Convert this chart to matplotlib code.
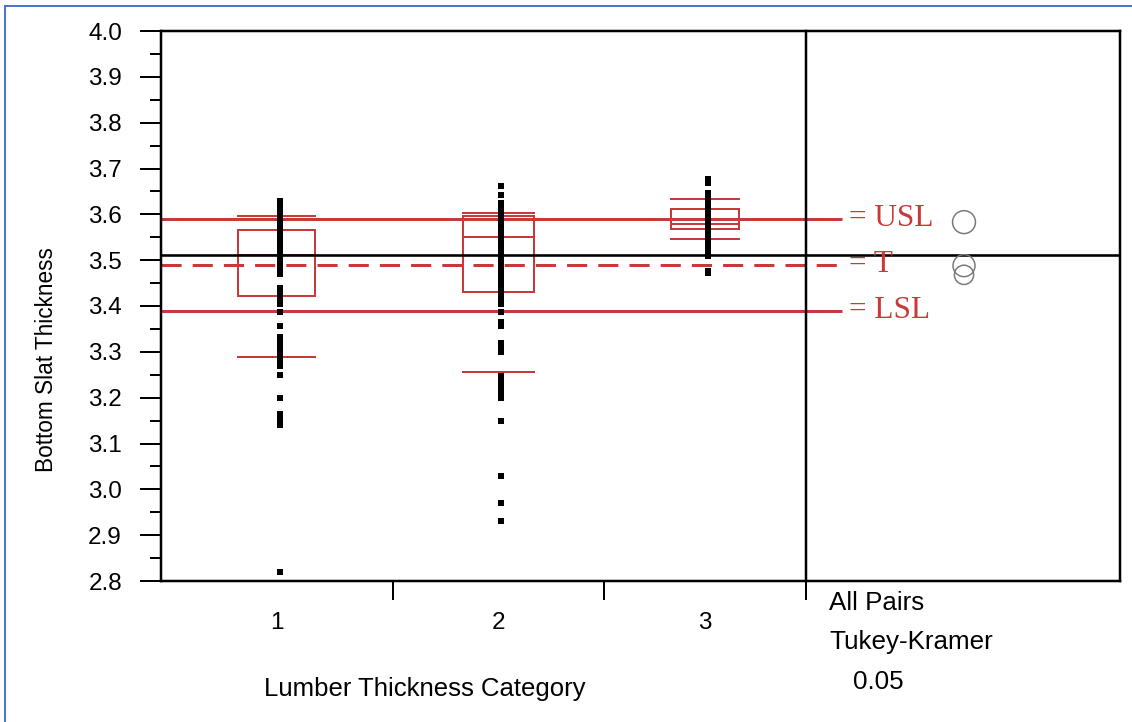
import matplotlib
matplotlib.use("Agg")
import matplotlib.pyplot as plt
from matplotlib.patches import Rectangle, Ellipse
from matplotlib.lines import Line2D

# ---- data -------------------------------------------------------------
categories = ["1", "2", "3"]
group_widths = [0.359, 0.328, 0.313]          # share of the x axis per level

box_q1 = [3.422, 3.430, 3.568]
box_median = [3.512, 3.551, 3.579]
box_q3 = [3.566, 3.596, 3.612]
whisker_low = [3.289, 3.256, 3.546]
whisker_high = [3.596, 3.602, 3.633]

cat1_values = [3.630, 3.620, 3.610, 3.600, 3.590, 3.580, 3.570, 3.560, 3.550,
               3.540, 3.530, 3.520, 3.510, 3.500, 3.490, 3.480, 3.470,
               3.440, 3.430, 3.420, 3.410, 3.405, 3.386, 3.356, 3.333, 3.320,
               3.310, 3.300, 3.290, 3.280, 3.270, 3.250, 3.200, 3.165, 3.155,
               3.145, 3.140, 2.820]
cat2_values = [3.661, 3.642, 3.625, 3.615, 3.605, 3.595, 3.585, 3.575, 3.565,
               3.555, 3.545, 3.535, 3.525, 3.515, 3.505, 3.495, 3.485, 3.475,
               3.465, 3.455, 3.445, 3.435, 3.425, 3.415, 3.405, 3.387, 3.366,
               3.356, 3.320, 3.310, 3.300, 3.247, 3.237, 3.227, 3.217, 3.207,
               3.199, 3.149, 3.030, 2.971, 2.932]
cat3_values = [3.678, 3.668, 3.646, 3.636, 3.626, 3.616, 3.606, 3.596, 3.586,
               3.576, 3.566, 3.556, 3.546, 3.536, 3.526, 3.516, 3.509, 3.476,
               3.471]
group_values = [cat1_values, cat2_values, cat3_values]

grand_mean = 3.512
spec_limits = {"USL": 3.59, "T": 3.49, "LSL": 3.39}

# Tukey-Kramer comparison circles (centre = group mean, radius)
circle_means = [3.468, 3.488, 3.583]
circle_radii = [0.021, 0.024, 0.025]

y_ticks = [2.8, 2.9, 3.0, 3.1, 3.2, 3.3, 3.4, 3.5, 3.6, 3.7, 3.8, 3.9, 4.0]

# ---- styling -------------------------------------------------------------
RED = "#c83a3a"
SANS = "Liberation Sans"
SERIF = "Liberation Serif"
W, H = 1132, 722
PX = 0.72  # points per pixel at 100 dpi

fig = plt.figure(figsize=(W / 100, H / 100), dpi=100)
fig.patch.set_facecolor("white")

ax_l, ax_r, ax_t, ax_b = 161, 1120, 31, 581
ax = fig.add_axes([ax_l / W, 1 - ax_b / H, (ax_r - ax_l) / W, (ax_b - ax_t) / H])
main_px = 806 - ax_l                      # width of the category area
x_max = (ax_r - ax_l) / main_px           # main area spans 0..1
ax.set_xlim(0, x_max)
ax.set_ylim(2.8, 4.0)

# conversion for drawing round circles in data units
px_per_x = main_px
px_per_y = (ax_b - ax_t) / 1.2

edges = [0.0]
for w in group_widths:
    edges.append(edges[-1] + w)
centers = [(edges[i] + edges[i + 1]) / 2 for i in range(3)]

# specification lines
spec_end = 1.056
for name, val in spec_limits.items():
    if name == "T":
        ax.plot([0, spec_end], [val, val], color=RED, lw=3 * PX,
                linestyle=(0, (6.7, 3.7)), zorder=2, solid_capstyle="butt")
    else:
        ax.plot([0, spec_end], [val, val], color=RED, lw=3 * PX, zorder=2,
                solid_capstyle="butt")
    ax.text(spec_end + 0.011, val, "= " + name, color=RED, fontsize=22.5,
            family=SERIF, ha="left", va="center", zorder=5)

# outlier box plots (box, median, whisker caps)
for i in range(3):
    hw = group_widths[i] / 6
    c = centers[i]
    ax.add_patch(Rectangle((c - hw, box_q1[i]), 2 * hw, box_q3[i] - box_q1[i],
                           fill=False, edgecolor=RED, lw=2 * PX, zorder=3))
    ax.plot([c - hw, c + hw], [box_median[i]] * 2, color=RED, lw=2 * PX, zorder=3)
    for wv in (whisker_low[i], whisker_high[i]):
        ax.plot([c - hw, c + hw], [wv, wv], color=RED, lw=2 * PX, zorder=3)

# grand mean across the whole frame
ax.axhline(grand_mean, color="black", lw=2.6 * PX, zorder=4)

# individual observations
for i, vals in enumerate(group_values):
    x = centers[i] + 3 / main_px
    ax.plot([x] * len(vals), vals, linestyle="none", marker="s",
            markersize=4.7, color="black", markeredgewidth=0, zorder=5)

# comparison circles
circ_x = (964 - ax_l) / main_px
for m, r in zip(circle_means, circle_radii):
    ax.add_patch(Ellipse((circ_x, m), 2 * r * px_per_y / px_per_x, 2 * r,
                         fill=False, edgecolor="#7a7a7a", lw=1.5 * PX, zorder=5))

# divider between the category area and the circle panel
ax.plot([1.0, 1.0], [2.8, 4.0], color="black", lw=2.5 * PX, zorder=6,
        clip_on=False)

for s in ax.spines.values():
    s.set_linewidth(2.5 * PX)

# y axis ticks
ax.set_yticks(y_ticks)
ax.set_yticklabels([f"{v:.1f}" for v in y_ticks], fontsize=17.5, family=SANS)
ax.set_yticks([v + 0.05 for v in y_ticks[:-1]], minor=True)
ax.tick_params(axis="y", which="major", length=21 * PX, width=2 * PX,
               direction="out", pad=13)
ax.tick_params(axis="y", which="minor", length=11 * PX, width=2 * PX,
               direction="out")

# x axis: ticks at group boundaries, labels at group centres
ax.set_xticks(edges[1:])
ax.set_xticklabels(["", "", ""])
ax.tick_params(axis="x", which="major", length=19 * PX, width=2 * PX,
               direction="out")
ax.set_xticks(centers, minor=True)
ax.set_xticklabels(categories, minor=True, fontsize=17.5, family=SANS)
ax.tick_params(axis="x", which="minor", length=0, pad=22)

# axis titles and the comparison-panel caption
fig.text(47 / W, 1 - 360 / H, "Bottom Slat Thickness", rotation=90,
         ha="center", va="center", fontsize=16.3, family=SANS)
fig.text(424.5 / W, 1 - 689 / H, "Lumber Thickness Category",
         ha="center", va="center", fontsize=18.5, family=SANS)
fig.text(829 / W, 1 - 603 / H, "All Pairs", ha="left", va="center",
         fontsize=18.7, family=SANS)
fig.text(829 / W, 1 - 642 / H, "Tukey-Kramer", ha="left", va="center",
         fontsize=18.7, family=SANS)
fig.text(853 / W, 1 - 682 / H, "0.05", ha="left", va="center",
         fontsize=18.7, family=SANS)

# outer blue frame (left and top edges)
blue = "#4a78d0"
fig.add_artist(Line2D([5 / W, 5 / W], [0, 1 - 6 / H], color=blue, lw=2 * PX,
                      transform=fig.transFigure))
fig.add_artist(Line2D([5 / W, 1], [1 - 6 / H, 1 - 6 / H], color=blue, lw=2 * PX,
                      transform=fig.transFigure))

fig.savefig("out.png", dpi=100, facecolor="white")
